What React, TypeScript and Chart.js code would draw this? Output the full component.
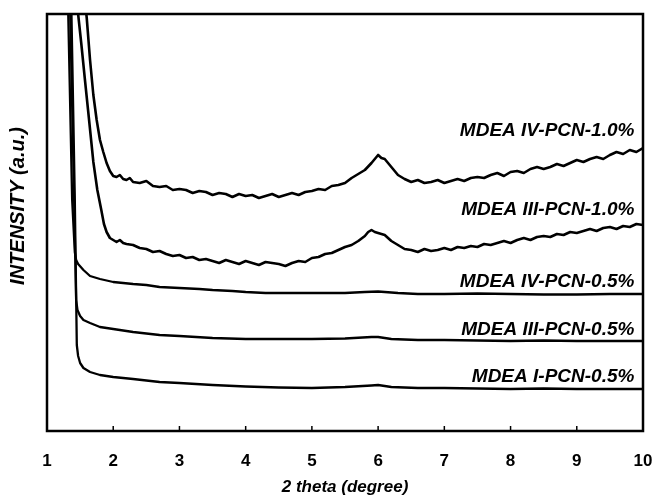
import { useEffect, useRef } from "react";
import { Chart, registerables } from "chart.js";
Chart.register(...registerables);

const xTicks = [1, 2, 3, 4, 5, 6, 7, 8, 9, 10];
const seriesNames = [
  "MDEA IV-PCN-1.0%",
  "MDEA III-PCN-1.0%",
  "MDEA IV-PCN-0.5%",
  "MDEA III-PCN-0.5%",
  "MDEA I-PCN-0.5%",
];

const iv10X = [1.55, 1.6, 1.65, 1.7, 1.75, 1.8, 1.85, 1.9, 1.95, 2.0, 2.05, 2.1, 2.15, 2.2, 2.25, 2.3, 2.4, 2.5, 2.6, 2.7, 2.8, 2.9, 3.0, 3.1, 3.2, 3.3, 3.4, 3.5, 3.6, 3.7, 3.8, 3.9, 4.0, 4.1, 4.2, 4.3, 4.4, 4.5, 4.6, 4.7, 4.8, 4.9, 5.0, 5.1, 5.2, 5.3, 5.4, 5.5, 5.6, 5.7, 5.8, 5.9, 5.95, 6.0, 6.05, 6.1, 6.15, 6.2, 6.3, 6.4, 6.5, 6.6, 6.7, 6.8, 6.9, 7.0, 7.1, 7.2, 7.3, 7.4, 7.5, 7.6, 7.7, 7.8, 7.9, 8.0, 8.1, 8.2, 8.3, 8.4, 8.5, 8.6, 8.7, 8.8, 8.9, 9.0, 9.1, 9.2, 9.3, 9.4, 9.5, 9.6, 9.7, 9.8, 9.9, 10.0];
const iv10Y = [446, 413, 371, 336, 311, 291, 279, 268, 260, 255, 254, 256, 252, 251, 253, 249,
  248, 250, 245, 244, 245, 241, 242, 241, 238, 240, 239, 236, 238, 237, 234, 237, 235, 236, 233, 235,
  237, 234, 236, 238, 236, 239, 240, 242, 241, 245, 246, 248, 253, 257, 261, 268,
  272, 276, 273, 272, 268, 264,
  256, 252, 249, 251, 248, 249, 251, 248, 250, 252, 250, 253, 254, 253, 256, 258, 255, 259,
  260, 258, 262, 264, 262, 264, 267, 265, 268, 271, 269, 272, 274, 272, 276, 279, 277, 281, 279, 283];

const iii10X = [1.43, 1.47, 1.52, 1.57, 1.62, 1.7, 1.76, 1.82, 1.86, 1.9, 1.95, 2.0, 2.05, 2.1, 2.15, 2.2, 2.3, 2.4, 2.5, 2.6, 2.7, 2.8, 2.9, 3.0, 3.1, 3.2, 3.3, 3.4, 3.5, 3.6, 3.7, 3.8, 3.9, 4.0, 4.1, 4.2, 4.3, 4.4, 4.5, 4.6, 4.7, 4.8, 4.9, 5.0, 5.1, 5.2, 5.3, 5.4, 5.5, 5.6, 5.7, 5.8, 5.85, 5.9, 5.95, 6.0, 6.1, 6.2, 6.3, 6.4, 6.5, 6.6, 6.7, 6.8, 6.9, 7.0, 7.1, 7.2, 7.3, 7.4, 7.5, 7.6, 7.7, 7.8, 7.9, 8.0, 8.1, 8.2, 8.3, 8.4, 8.5, 8.6, 8.7, 8.8, 8.9, 9.0, 9.1, 9.2, 9.3, 9.4, 9.5, 9.6, 9.7, 9.8, 9.9, 10.0];
const iii10Y = [441, 417, 386, 353, 321, 269, 241, 221, 207, 199, 193, 191, 189, 191, 188, 187,
  186, 183, 182, 179, 180, 177, 175, 176, 173, 174, 171, 172, 170, 168, 171, 169, 167, 170, 168, 166,
  169, 168, 167, 165, 168, 170, 169, 173, 174, 177, 178, 181, 184, 186, 190, 195,
  199, 201, 199, 198,
  196, 190, 186, 182, 181, 179, 182, 180, 181, 183, 181, 184, 183, 185, 184, 187, 186, 188, 190, 188,
  191, 193, 191, 194, 195, 194, 197, 196, 199, 198, 200, 202, 200, 203, 204, 202, 205, 204, 207, 206];

const iv05X = [1.31, 1.38, 1.42, 1.44, 1.47, 1.55, 1.65, 1.8, 2.0, 2.3, 2.5, 2.7, 3.0, 3.3, 3.5, 3.8, 4.0, 4.3, 4.7, 5.0, 5.5, 5.8, 6.0, 6.3, 6.6, 7.0, 7.5, 8.0, 8.5, 9.0, 9.5, 10.0];
const iv05Y = [451, 231, 179, 171, 167, 161, 155, 152, 149, 147, 146, 144, 143, 142, 141, 140, 139, 138, 138, 138, 138, 139, 139.5, 138, 137, 137, 137.5, 137, 136.5, 136.5, 137, 137];

const iii05X = [1.34, 1.41, 1.44, 1.46, 1.5, 1.55, 1.65, 1.8, 2.0, 2.3, 2.7, 3.0, 3.5, 4.0, 4.5, 5.0, 5.5, 5.9, 6.0, 6.2, 6.6, 7.0, 7.5, 8.0, 8.5, 9.0, 9.5, 10.0];
const iii05Y = [451, 231, 131, 121, 115, 111, 108, 104, 102, 99, 96, 95, 93, 92, 92, 92, 92.5, 94, 94, 92, 91, 91, 90.5, 90, 90.5, 90, 90, 90];

const i05X = [1.36, 1.42, 1.45, 1.47, 1.5, 1.55, 1.65, 1.8, 2.0, 2.3, 2.7, 3.0, 3.5, 4.0, 4.5, 5.0, 5.5, 5.9, 6.0, 6.2, 6.6, 7.0, 7.5, 8.0, 8.5, 9.0, 9.5, 10.0];
const i05Y = [451, 231, 86, 75, 68, 63, 59, 56, 54, 52, 49, 48, 46, 44.5, 43.5, 43, 44, 45.5, 46, 44, 43, 43, 42.5, 42, 42.5, 42, 42, 42];

const labelX = 9.87;
const labelY = [300, 221, 149, 101, 54];
const yTitleAt = 225;

const FONT = '"Liberation Sans", Arial, Helvetica, sans-serif';

const framePlugin = {
  id: "frame",
  afterDatasetsDraw(chart: any) {
    const { ctx, chartArea: a, scales } = chart;
    ctx.save();
    ctx.strokeStyle = "#000";
    ctx.lineWidth = 2.5;
    ctx.strokeRect(a.left, a.top, a.right - a.left, a.bottom - a.top);
    ctx.lineWidth = 1.5;
    for (const t of xTicks.slice(1, -1)) {
      const px = scales.x.getPixelForValue(t);
      ctx.beginPath();
      ctx.moveTo(px, a.bottom);
      ctx.lineTo(px, a.bottom - 5);
      ctx.stroke();
    }
    ctx.fillStyle = "#000";
    ctx.font = `italic bold 19px ${FONT}`;
    ctx.textAlign = "right";
    ctx.textBaseline = "middle";
    seriesNames.forEach((n, i) => {
      ctx.fillText(n, scales.x.getPixelForValue(labelX), scales.y.getPixelForValue(labelY[i]));
    });
    ctx.translate(scales.y.left + 18, scales.y.getPixelForValue(yTitleAt));
    ctx.rotate(-Math.PI / 2);
    ctx.textAlign = "center";
    ctx.font = `italic bold 20px ${FONT}`;
    ctx.fillText("INTENSITY (a.u.)", 0, 0);
    ctx.restore();
  },
};

export default function App() {
  const ref = useRef<HTMLCanvasElement>(null);
  useEffect(() => {
    const pts = (xs: number[], ys: number[]) => xs.map((x, i) => ({ x, y: ys[i] }));
    const all = [
      [iv10X, iv10Y],
      [iii10X, iii10Y],
      [iv05X, iv05Y],
      [iii05X, iii05Y],
      [i05X, i05Y],
    ];
    const chart = new Chart(ref.current!, {
      type: "line",
      data: {
        datasets: all.map(([xs, ys], i) => ({
          label: seriesNames[i],
          data: pts(xs as number[], ys as number[]),
          borderColor: "#000",
          borderWidth: i < 2 ? 2.6 : 2.3,
          pointRadius: 0,
          tension: 0,
          fill: false,
          borderJoinStyle: "round" as const,
        })),
      },
      options: {
        animation: false,
        responsive: false,
        layout: { padding: { top: 14, right: 10, left: 0, bottom: 0 } },
        plugins: { legend: { display: false }, tooltip: { enabled: false } },
        scales: {
          x: {
            type: "linear",
            min: 1,
            max: 10,
            ticks: { stepSize: 1, color: "#000", font: { family: FONT, size: 17, weight: "bold" }, padding: 20 },
            grid: { display: false, drawTicks: false },
            border: { display: false },
            title: {
              display: true,
              text: "2 theta (degree)",
              color: "#000",
              font: { family: FONT, size: 17, weight: "bold", style: "italic" },
              padding: { top: 0, bottom: 0 },
            },
            afterFit: (s: any) => {
              s.height = 67;
              s.paddingLeft = 0;
              s.paddingRight = 0;
            },
          },
          y: {
            min: 0,
            max: 417,
            ticks: { display: false },
            grid: { display: false, drawTicks: false },
            border: { display: false },
            afterFit: (s: any) => {
              s.width = 47;
              s.paddingTop = 0;
              s.paddingBottom = 0;
            },
          },
        },
      },
      plugins: [framePlugin],
    });
    return () => chart.destroy();
  }, []);
  return (
    <div style={{ position: "fixed", left: 0, top: 0, width: 653, height: 498, background: "#fff" }}>
      <canvas ref={ref} width={653} height={498} style={{ display: "block", width: 653, height: 498 }} />
    </div>
  );
}
